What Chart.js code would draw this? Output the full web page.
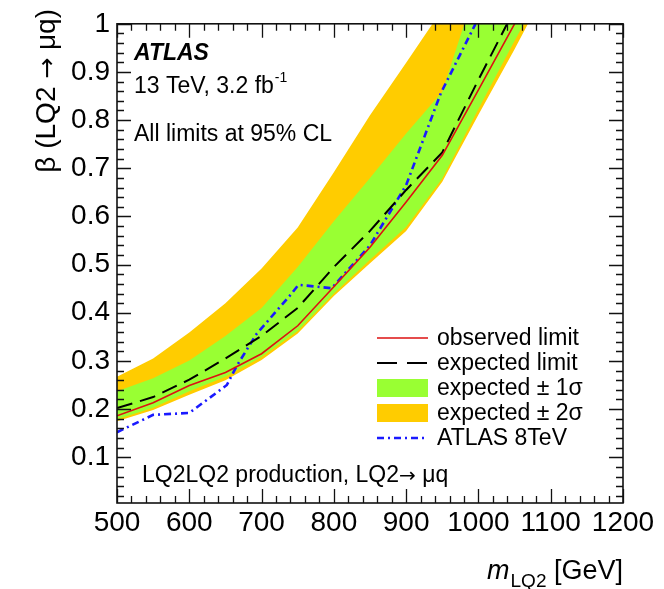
<!DOCTYPE html>
<html>
<head>
<meta charset="utf-8">
<script src="https://cdn.jsdelivr.net/npm/chart.js@4.4.1/dist/chart.umd.min.js"></script>
<style>
  html, body { margin: 0; padding: 0; background: #fff; }
  #wrap { width: 664px; height: 589px; }
</style>
</head>
<body>
<div id="wrap"><canvas id="limitChart" width="664" height="589"></canvas></div>
<script>
// LQ2 mass points (GeV) and limits on beta
const mass = [500, 550, 600, 650, 700, 750, 800, 850, 900, 950, 1000, 1050, 1100];
const observed = [0.186, 0.213, 0.249, 0.276, 0.315, 0.373, 0.454, 0.536, 0.630, 0.727, 0.863, 1.0, null];
const expected = [0.202, 0.225, 0.261, 0.305, 0.352, 0.410, 0.495, 0.570, 0.655, 0.733, 0.884, 1.03, null];
const plus1 = [0.237, 0.264, 0.301, 0.352, 0.410, 0.495, 0.590, 0.680, 0.772, 0.859, 1.09, 1.30, 1.45];
const minus1 = [0.179, 0.203, 0.237, 0.267, 0.308, 0.362, 0.440, 0.510, 0.578, 0.679, 0.823, 0.965, 1.10];
const plus2 = [0.267, 0.305, 0.359, 0.420, 0.492, 0.577, 0.692, 0.810, 0.919, 1.03, 1.25, 1.45, 1.60];
const minus2 = [0.175, 0.198, 0.230, 0.260, 0.302, 0.357, 0.435, 0.503, 0.570, 0.672, 0.811, 0.947, 1.09];

// 8 TeV result
const mass8 = [500, 550, 600, 652, 665, 693, 740, 751, 797, 850, 900, 948, 996];
const limit8 = [0.152, 0.188, 0.192, 0.250, 0.288, 0.356, 0.437, 0.458, 0.451, 0.540, 0.665, 0.856, 1.0];

const yTicks = [0.1, 0.2, 0.3, 0.4, 0.5, 0.6, 0.7, 0.8, 0.9, 1];
const xTicks = [500, 600, 700, 800, 900, 1000, 1100, 1200];

const FONT = "'Liberation Sans', Arial, Helvetica, sans-serif";
const ARROW_FONT = "'DejaVu Sans', sans-serif";
Chart.defaults.font.family = FONT;
Chart.defaults.color = "#000";

const pts = (xs, ys) => xs.map((x, i) => ({ x: x, y: ys[i] })).filter(p => p.y !== null);

const YELLOW = "#ffcc00";
const GREEN = "#99ff33";

const datasets = [
    { label: "observed limit", data: pts(mass, observed), borderColor: "#dd1111", borderWidth: 1.6,
      fill: false, order: 0, kind: "line" },
    { label: "expected limit", data: pts(mass, expected), borderColor: "#000", borderWidth: 2,
      borderDash: [16, 8], fill: false, order: 0, kind: "line" },
    { label: "expected \u00b1 1\u03c3", data: pts(mass, plus1), borderWidth: 0, backgroundColor: GREEN,
      fill: 3, order: 1, kind: "box" },
    { label: "", data: pts(mass, minus1), borderWidth: 0, fill: false, order: 1 },
    { label: "expected \u00b1 2\u03c3", data: pts(mass, plus2), borderWidth: 0, backgroundColor: YELLOW,
      fill: 5, order: 2, kind: "box" },
    { label: "", data: pts(mass, minus2), borderWidth: 0, fill: false, order: 2 },
    { label: "ATLAS 8TeV", data: pts(mass8, limit8), borderColor: "#1a1aff", borderWidth: 2.6,
      borderDash: [7, 4, 2, 4], fill: false, order: 0, kind: "line" }
];
datasets.forEach(d => { d.pointRadius = 0; d.tension = 0; });

// draws text runs left to right, each with its own font; returns end x
function drawRuns(ctx, runs, x, y) {
    runs.forEach(r => {
        ctx.font = r[1];
        ctx.fillText(r[0], x, y);
        x += ctx.measureText(r[0]).width;
    });
    return x;
}
function runsWidth(ctx, runs) {
    let w = 0;
    runs.forEach(r => { ctx.font = r[1]; w += ctx.measureText(r[0]).width; });
    return w;
}

// frame, inner tick marks, labels and legend in ROOT style
const atlasDecor = {
    id: "atlasDecor",
    afterDraw(chart) {
        const ctx = chart.ctx;
        const a = chart.chartArea;
        const xs = chart.scales.x, ys = chart.scales.y;
        ctx.save();
        ctx.strokeStyle = "#111";
        ctx.lineWidth = 1.6;
        ctx.strokeRect(a.left, a.top, a.right - a.left, a.bottom - a.top);

        ctx.lineWidth = 1.3;
        ctx.beginPath();
        for (let m = 500; m <= 1200; m += 20) {
            const px = Math.round(xs.getPixelForValue(m)) + 0.5;
            const len = (m % 100 === 0) ? 14 : 7;
            ctx.moveTo(px, a.bottom); ctx.lineTo(px, a.bottom - len);
            ctx.moveTo(px, a.top); ctx.lineTo(px, a.top + len);
        }
        for (let k = 1; k <= 50; k++) {
            const v = k * 0.02;
            const py = Math.round(ys.getPixelForValue(v)) + 0.5;
            const len = (k % 5 === 0) ? 14 : 7;
            ctx.moveTo(a.left, py); ctx.lineTo(a.left + len, py);
            ctx.moveTo(a.right, py); ctx.lineTo(a.right - len, py);
        }
        ctx.stroke();

        // texts inside the frame
        ctx.fillStyle = "#000";
        ctx.textBaseline = "alphabetic";
        ctx.textAlign = "left";
        ctx.font = "italic bold 23px " + FONT;
        ctx.fillText("ATLAS", 134, 60);
        ctx.font = "23px " + FONT;
        ctx.fillText("13 TeV, 3.2 fb", 134, 93);
        let w = ctx.measureText("13 TeV, 3.2 fb").width;
        ctx.font = "14px " + FONT;
        ctx.fillText("-1", 134 + w + 1, 82);
        ctx.font = "23px " + FONT;
        ctx.fillText("All limits at 95% CL", 134, 141);
        drawRuns(ctx, [["LQ2LQ2 production, LQ2", "23px " + FONT],
                       ["\u2192", "20px " + ARROW_FONT],
                       [" \u03bcq", "23px " + FONT]], 142, 482);

        // legend
        const rowY = [338, 363, 388, 413, 438];
        const entries = chart.data.datasets.filter(d => d.kind);
        ctx.font = "23px " + FONT;
        ctx.textBaseline = "middle";
        entries.forEach((d, i) => {
            const y = rowY[i];
            if (d.kind === "box") {
                ctx.fillStyle = d.backgroundColor;
                ctx.fillRect(377, y - 9, 51, 18);
            } else {
                ctx.strokeStyle = d.borderColor;
                ctx.lineWidth = d.borderWidth;
                ctx.setLineDash(d.borderDash ? (d.borderDash.length === 2 ? [20, 10] : d.borderDash) : []);
                ctx.beginPath();
                ctx.moveTo(377, y); ctx.lineTo(428, y);
                ctx.stroke();
                ctx.setLineDash([]);
            }
            ctx.fillStyle = "#000";
            ctx.font = "23px " + FONT;
            ctx.fillText(d.label, 437, y + 1);
        });

        // axis titles
        ctx.textBaseline = "alphabetic";
        ctx.font = "27px " + FONT;
        ctx.textAlign = "right";
        const gev = " [GeV]";
        ctx.fillText(gev, a.right, 579);
        let gx = a.right - ctx.measureText(gev).width;
        ctx.font = "19px " + FONT;
        ctx.fillText("LQ2", gx, 587);
        gx -= ctx.measureText("LQ2").width;
        ctx.font = "italic 27px " + FONT;
        ctx.fillText("m", gx - 1, 579);

        const yTitle = [["\u03b2 (LQ2 ", "28px " + FONT],
                        ["\u2192", "25px " + ARROW_FONT],
                        [" \u03bcq)", "28px " + FONT]];
        ctx.textAlign = "left";
        ctx.translate(55, 9);
        ctx.rotate(-Math.PI / 2);
        drawRuns(ctx, yTitle, -runsWidth(ctx, yTitle), 0);
        ctx.restore();
    }
};

new Chart(document.getElementById("limitChart"), {
    type: "line",
    data: { datasets: datasets },
    options: {
        responsive: false,
        animation: false,
        devicePixelRatio: 1,
        layout: { padding: { top: 16, right: 41, left: 0, bottom: 0 } },
        plugins: { legend: { display: false }, tooltip: { enabled: false } },
        scales: {
            x: {
                type: "linear",
                min: 500,
                max: 1200,
                grid: { display: false, drawTicks: false },
                border: { display: false },
                afterBuildTicks: s => { s.ticks = xTicks.map(v => ({ value: v })); },
                afterFit: s => { s.height = 86; },
                ticks: { font: { size: 28 }, padding: 3, maxRotation: 0, autoSkip: false,
                         callback: v => String(v) }
            },
            y: {
                type: "linear",
                min: 0.005,
                max: 1,
                grid: { display: false, drawTicks: false },
                border: { display: false },
                afterBuildTicks: s => { s.ticks = yTicks.map(v => ({ value: v })); },
                afterFit: s => { s.width = 117; },
                ticks: { font: { size: 28 }, padding: 7, autoSkip: false,
                         callback: v => (v === 1 ? "1" : v.toFixed(1)) }
            }
        }
    },
    plugins: [atlasDecor]
});
</script>
</body>
</html>
